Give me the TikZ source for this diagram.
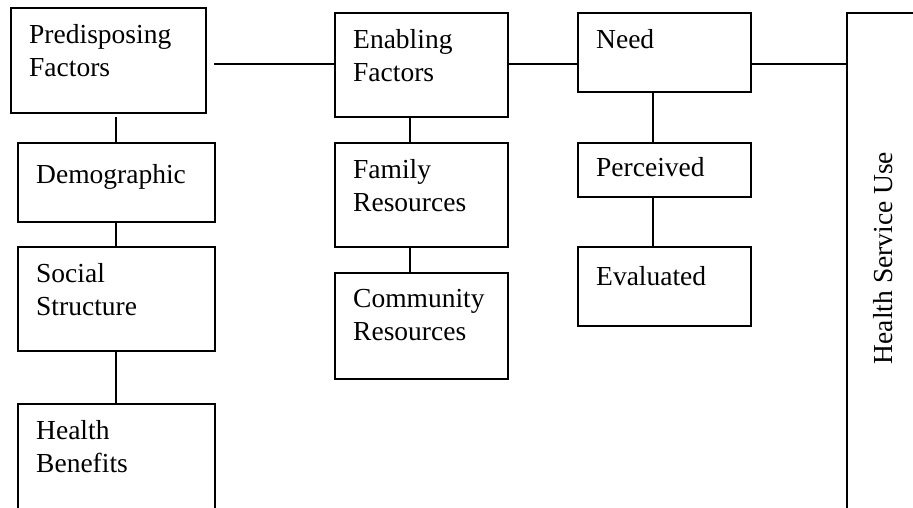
\documentclass[tikz,border=0pt]{standalone}
\usepackage{fontspec}
\setmainfont{Liberation Serif}
\usetikzlibrary{positioning}
\tikzstyle{factor} = [rectangle, draw=black, line width=2pt, anchor=north west, inner sep=0pt, outer sep=0pt]
\tikzstyle{txt} = [anchor=north west, align=left, inner sep=0pt, xshift=18pt, yshift=-16pt, font=\fontsize{27.5}{33}\selectfont]
\tikzstyle{link} = [line width=2pt]

\begin{document}
\begin{tikzpicture}[x=1pt, y=-1pt]
    \useasboundingbox (0,0) rectangle (913,507);
    \clip (0,0) rectangle (913,507);

    % Predisposing column
    \node[factor, minimum width=195pt, minimum height=105pt, label={[txt]north west:{Predisposing\\Factors}}] (pre) at (11,8) {};
    \node[factor, minimum width=197pt, minimum height=79pt, label={[txt, yshift=-5pt]north west:{Demographic}}] (demo) at (18,143) {};
    \node[factor, minimum width=197pt, minimum height=104pt, label={[txt]north west:{Social\\Structure}}] (soc) at (18,247) {};
    \node[factor, minimum width=197pt, minimum height=150pt, label={[txt]north west:{Health\\Benefits}}] (hben) at (18,404) {};

    % Enabling column
    \node[factor, minimum width=173pt, minimum height=104pt, label={[txt]north west:{Enabling\\Factors}}] (ena) at (335,13) {};
    \node[factor, minimum width=173pt, minimum height=104pt, label={[txt]north west:{Family\\Resources}}] (fam) at (335,143) {};
    \node[factor, minimum width=173pt, minimum height=106pt, label={[txt]north west:{Community\\Resources}}] (com) at (335,273) {};

    % Need column
    \node[factor, minimum width=173pt, minimum height=79pt, label={[txt]north west:{Need}}] (need) at (578,13) {};
    \node[factor, minimum width=173pt, minimum height=54pt, label={[txt, yshift=2pt]north west:{Perceived}}] (perc) at (578,143) {};
    \node[factor, minimum width=173pt, minimum height=79pt, label={[txt, yshift=-3pt]north west:{Evaluated}}] (eval) at (578,247) {};

    % Outcome
    \node[factor, minimum width=120pt, minimum height=560pt] (hsu) at (847,13) {};
    \node[rotate=90, anchor=base, inner sep=0pt, font=\fontsize{27.5}{33}\selectfont] (hsutxt) at (892,258) {Health Service Use};

    % Connectors
    \coordinate (spine) at (0,64);
    \coordinate (colA) at (116,0);
    \coordinate (colB) at (410,0);
    \coordinate (colC) at (653,0);
    \draw[link, shorten <=8pt] (pre.east |- spine) -- (ena.west |- spine);
    \draw[link] (ena.east |- spine) -- (need.west |- spine);
    \draw[link] (need.east |- spine) -- (hsu.west |- spine);
    \draw[link, shorten <=4pt] (colA |- pre.south) -- (colA |- demo.north);
    \draw[link] (colA |- demo.south) -- (colA |- soc.north);
    \draw[link] (colA |- soc.south) -- (colA |- hben.north);
    \draw[link] (colB |- ena.south) -- (colB |- fam.north);
    \draw[link] (colB |- fam.south) -- (colB |- com.north);
    \draw[link] (colC |- need.south) -- (colC |- perc.north);
    \draw[link] (colC |- perc.south) -- (colC |- eval.north);
\end{tikzpicture}
\end{document}
